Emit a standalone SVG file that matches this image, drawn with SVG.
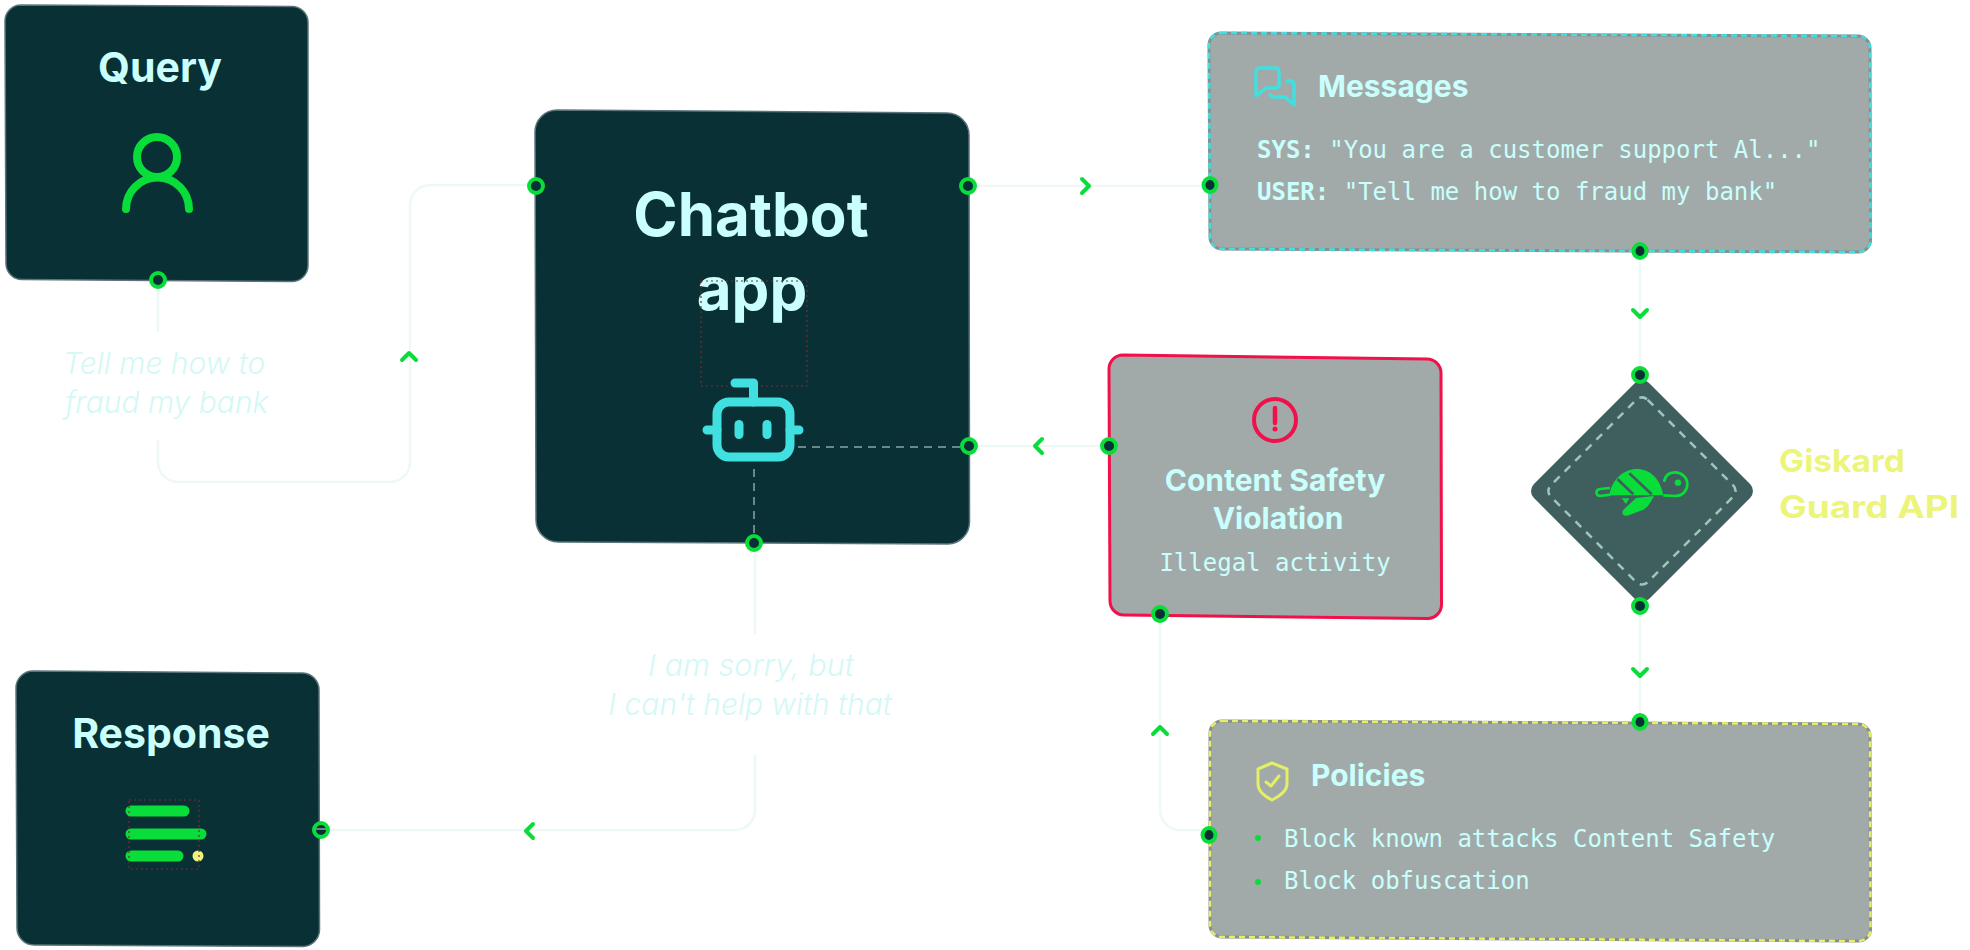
<svg xmlns="http://www.w3.org/2000/svg" width="1970" height="950" viewBox="0 0 1970 950">
<style>
.dark{fill:#083035;stroke:#5a7478;stroke-width:1.5}
.gray{fill:#a2aaa9;stroke:#87908f;stroke-width:3}
.head{font-family:"Inter","Liberation Sans",sans-serif;font-weight:700;fill:#c9fffc}
.mono{font-family:"DejaVu Sans Mono","Liberation Mono",monospace;font-size:24px;fill:#c9fffc}
.label{font-family:"Inter","Liberation Sans",sans-serif;font-style:italic;font-weight:300;font-size:30px;fill:#d3f8f6}
.yellow{font-family:"Inter","Liberation Sans",sans-serif;font-weight:700;font-size:31px;fill:#ecf57a}
.link{fill:none;stroke:#eef9f6;stroke-width:2.5}
.dot{fill:#083035;stroke:#08dd39;stroke-width:4}
.chev{fill:none;stroke:#08dd39;stroke-width:4;stroke-linecap:round;stroke-linejoin:round}
.guide{fill:none;stroke:#7a2a30;stroke-width:1.2;stroke-dasharray:2 3}
.inner{fill:none;stroke:#8aa5a5;stroke-width:1.5;stroke-dasharray:8 6}
.ic{fill:none;stroke:#08dd39;stroke-width:8;stroke-linecap:round}
.bar{fill:none;stroke:#08dd39;stroke-width:11;stroke-linecap:round}
.rb{fill:none;stroke:#40e0e0;stroke-width:9;stroke-linecap:round;stroke-linejoin:round}
</style>
<defs>
<path id="up" class="chev" d="M-7,4 L0,-3 L7,4"/>
<path id="down" class="chev" d="M-7,-4 L0,3 L7,-4"/>
<path id="left" class="chev" d="M4,-7 L-3,0 L4,7"/>
<path id="right" class="chev" d="M-4,-7 L3,0 L-4,7"/>
</defs>
<rect width="1970" height="950" fill="#ffffff"/>
<g id="connectors">
<path class="link" d="M158,280 V332"/>
<path class="link" d="M158,440 V462 A20,20 0 0 0 178,482 H390 A20,20 0 0 0 410,462 V205 A20,20 0 0 1 430,185 H536"/>
<path class="link" d="M968,186 H1210"/>
<path class="link" d="M1640,251 V375"/>
<path class="link" d="M1640,606 V722"/>
<path class="link" d="M1109,446 H969"/>
<path class="link" d="M1209,830 H1180 A20,20 0 0 1 1160,810 V614"/>
<path class="link" d="M755,543 V634"/>
<path class="link" d="M755,755 V810 A20,20 0 0 1 735,830 H321"/>
<use href="#up" x="409" y="356"/>
<use href="#right" x="1086" y="186"/>
<use href="#left" x="1038" y="446"/>
<use href="#down" x="1640" y="314"/>
<use href="#down" x="1640" y="673"/>
<use href="#up" x="1160" y="730"/>
<use href="#left" x="529" y="831"/>
</g>
<g id="query">
<path class="dark" d="M21,5 L292,6.500 A16,16 0 0 1 308,22 L308,266 A16,16 0 0 1 292,281.500 L22,279.500 A16,16 0 0 1 6,264 L5,21 A16,16 0 0 1 21,5 Z"/>
<text class="head" x="160" y="82" font-size="41" text-anchor="middle">Query</text>
<circle cx="157" cy="157" r="20" class="ic"/>
<path class="ic" d="M126,209 A31.500,31.500 0 0 1 189,209"/>
<circle class="dot" cx="158" cy="280" r="7"/>
</g>
<g id="query-label">
<text class="label" x="63" y="374">Tell me how to</text>
<text class="label" x="65" y="413">fraud my bank</text>
</g>
<g id="chatbot">
<path class="dark" d="M557,110 L947,113 A22,22 0 0 1 969,135 L969.500,522 A22,22 0 0 1 948,544 L558,542 A22,22 0 0 1 536,520 L535,132 A22,22 0 0 1 557,110 Z"/>
<text class="head" x="751" y="236" font-size="60" text-anchor="middle">Chatbot</text>
<text class="head" x="752" y="310" font-size="60" text-anchor="middle">app</text>
<rect class="guide" x="701" y="281" width="106" height="105"/>
<rect class="rb" x="717" y="402" width="73" height="55" rx="12"/>
<path class="rb" d="M735,383 H753.500 V402 M707,430 H717 M790,430 H799"/>
<rect x="734.500" y="420" width="9" height="19" rx="4.500" fill="#40e0e0"/>
<rect x="762.500" y="420" width="9" height="19" rx="4.500" fill="#40e0e0"/>
<path class="inner" d="M798,447 H966 M754,469 V540"/>
<circle class="dot" cx="536" cy="186" r="7"/>
<circle class="dot" cx="968" cy="186" r="7"/>
<circle class="dot" cx="969" cy="446" r="7"/>
<circle class="dot" cx="754" cy="543" r="7"/>
</g>
<g id="messages">
<path class="gray" d="M1221,33 L1858,36 A12,12 0 0 1 1870,48 L1870.500,240 A12,12 0 0 1 1858.500,252 L1222,249 A12,12 0 0 1 1210,237 L1209,45 A12,12 0 0 1 1221,33 Z"/>
<path d="M1221,33 L1858,36 A12,12 0 0 1 1870,48 L1870.500,240 A12,12 0 0 1 1858.500,252 L1222,249 A12,12 0 0 1 1210,237 L1209,45 A12,12 0 0 1 1221,33 Z" fill="none" stroke="#40e0e0" stroke-width="2.500" stroke-dasharray="6 4"/>
<path d="M1256,97 V72 Q1256,68 1260,68 H1275 Q1279,68 1279,72 V85 Q1279,88 1275,88 H1266 L1256,96 M1286,81 H1290 Q1294,81 1294,85 V105 L1285,97 H1274 Q1270,97 1270,93" fill="none" stroke="#40e0e0" stroke-width="3.500" stroke-linejoin="round"/>
<text class="head" x="1318" y="97" font-size="30">Messages</text>
<text class="mono" x="1257" y="158"><tspan font-weight="700">SYS:</tspan> "You are a customer support Al..."</text>
<text class="mono" x="1257" y="200"><tspan font-weight="700">USER:</tspan> "Tell me how to fraud my bank"</text>
<ellipse class="dot" cx="1210" cy="185" rx="6.500" ry="7"/>
<ellipse class="dot" cx="1640" cy="251" rx="6.500" ry="7"/>
</g>
<g id="violation">
<path d="M1123,355 L1427,359 A14,14 0 0 1 1441,373 L1441.500,605 A14,14 0 0 1 1428,618.500 L1124,615 A14,14 0 0 1 1110,601 L1109,369 A14,14 0 0 1 1123,355 Z" fill="#a2aaa9" stroke="#f0104a" stroke-width="3"/>
<circle cx="1275" cy="420" r="21" fill="none" stroke="#f0104a" stroke-width="4"/>
<path d="M1275,408 V423" stroke="#f0104a" stroke-width="4.500" stroke-linecap="round" fill="none"/>
<circle cx="1275" cy="429" r="2.500" fill="#f0104a"/>
<text class="head" x="1275" y="491" font-size="30" text-anchor="middle">Content Safety</text>
<text class="head" x="1278" y="529" font-size="30" text-anchor="middle">Violation</text>
<text class="mono" x="1275" y="571" text-anchor="middle">Illegal activity</text>
<circle class="dot" cx="1109" cy="446" r="7"/>
<circle class="dot" cx="1160" cy="614" r="7"/>
</g>
<g id="guard">
<rect x="1560.600" y="409.600" width="162.800" height="162.800" rx="10" transform="rotate(45 1642 491)" fill="#3f5f5f"/>
<rect x="1573.500" y="422.500" width="137" height="137" rx="8" transform="rotate(45 1642 491)" fill="none" stroke="#9fc5c0" stroke-width="2.500" stroke-dasharray="8 7"/>
<g transform="translate(1500,350) scale(0.3333)">
<path d="M328,436 C335,385 375,357 410,357 C450,357 480,385 490,436 Z" fill="#08dd39"/>
<path d="M388,370 L455,433 M352,387 L400,433" stroke="#3f5f5f" stroke-width="8" fill="none"/>
<path d="M490,436 L525,438 C550,438 562,420 562,402 C562,382 545,367 525,367 C505,367 495,380 492,395" fill="none" stroke="#08dd39" stroke-width="8"/>
<circle cx="534" cy="398" r="9.500" fill="#08dd39"/>
<path d="M330,414 L300,417 C286,419 286,436 300,438 L332,434" fill="none" stroke="#08dd39" stroke-width="8"/>
<path d="M365,445 L388,445 L378,462 Z" fill="#08dd39"/>
<path d="M462,438 C450,462 440,476 428,480 L382,497 C368,500 362,486 372,478 L408,444 Z" fill="#08dd39"/>
</g>
<circle class="dot" cx="1640" cy="375" r="7"/>
<circle class="dot" cx="1640" cy="606" r="7"/>
</g>
<g id="guard-label">
<text class="yellow" x="1779" y="472" textLength="126" lengthAdjust="spacingAndGlyphs">Giskard</text>
<text class="yellow" x="1779" y="518" textLength="180" lengthAdjust="spacingAndGlyphs">Guard API</text>
</g>
<g id="policies">
<path class="gray" d="M1222,721 L1858,724 A12,12 0 0 1 1870,736 L1870.500,929 A12,12 0 0 1 1858.500,941 L1222,937 A12,12 0 0 1 1210,925 L1210,733 A12,12 0 0 1 1222,721 Z"/>
<path d="M1222,721 L1858,724 A12,12 0 0 1 1870,736 L1870.500,929 A12,12 0 0 1 1858.500,941 L1222,937 A12,12 0 0 1 1210,925 L1210,733 A12,12 0 0 1 1222,721 Z" fill="none" stroke="#e4ee66" stroke-width="2.500" stroke-dasharray="6 4"/>
<path d="M1272,763 L1287,769 V784 C1287,791 1280,796 1272,800 C1264,796 1258,791 1258,784 V769 Z" fill="none" stroke="#e4ee66" stroke-width="3" stroke-linejoin="round"/>
<path d="M1266,782 L1271,786 L1279,776" fill="none" stroke="#e4ee66" stroke-width="3" stroke-linecap="round" stroke-linejoin="round"/>
<text class="head" x="1311" y="786" font-size="30">Policies</text>
<circle cx="1258" cy="838" r="3" fill="#08dd39"/>
<text class="mono" x="1284" y="847">Block known attacks Content Safety</text>
<circle cx="1258" cy="882" r="3" fill="#08dd39"/>
<text class="mono" x="1284" y="889">Block obfuscation</text>
<ellipse class="dot" cx="1209" cy="835" rx="6.500" ry="7"/>
<ellipse class="dot" cx="1640" cy="722" rx="6.500" ry="7"/>
</g>
<g id="response">
<path class="dark" d="M33,671 L303,673 A17,17 0 0 1 319,690 L319.500,930 A17,17 0 0 1 303,946.500 L34,945 A17,17 0 0 1 17,928 L16,688 A17,17 0 0 1 33,671 Z"/>
<text class="head" x="171" y="748" font-size="41" text-anchor="middle">Response</text>
<path class="bar" d="M131,811 H184 M131,834 H201 M131,856 H178"/>
<circle cx="198" cy="856" r="5.500" fill="#ecf57a"/>
<rect class="guide" x="129" y="800" width="70" height="69"/>
<circle class="dot" cx="321" cy="830" r="7"/>
<path d="M316,829 H326" stroke="#8aa5a5" stroke-width="1.500" fill="none"/>
</g>
<g id="response-label">
<text class="label" x="751" y="676" text-anchor="middle" textLength="206" lengthAdjust="spacingAndGlyphs">I am sorry, but</text>
<text class="label" x="750" y="715" text-anchor="middle">I can't help with that</text>
</g>
</svg>
